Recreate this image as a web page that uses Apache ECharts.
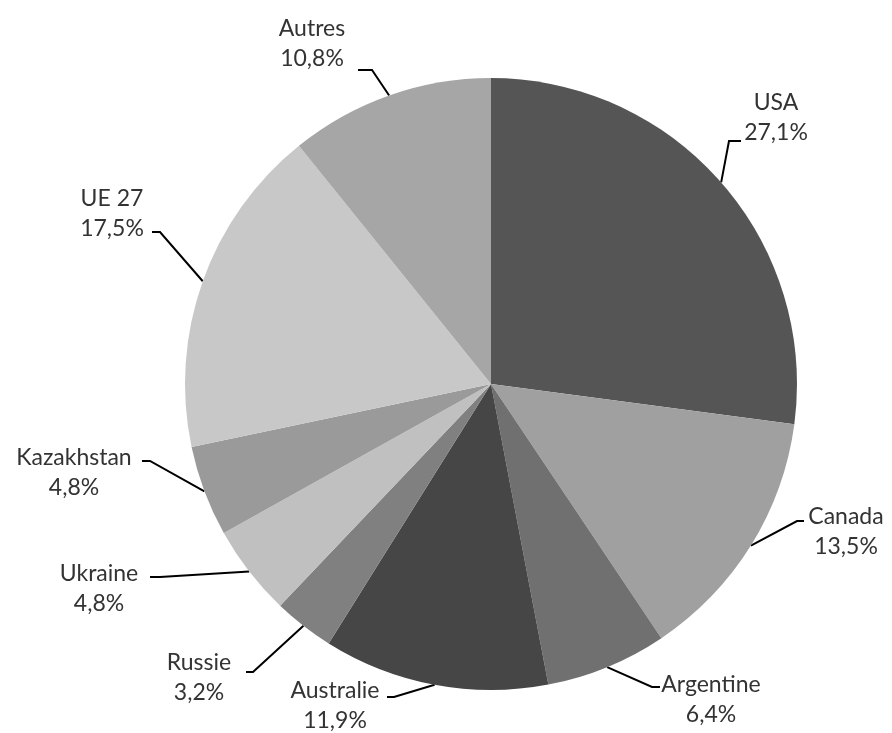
<!DOCTYPE html>
<html>
<head>
<meta charset="utf-8">
<script src="https://cdn.jsdelivr.net/npm/echarts@6/dist/echarts.min.js"></script>
<style>
html,body{margin:0;padding:0;background:#fff;}
#chart{width:892px;height:733px;}
</style>
</head>
<body>
<div id="chart"></div>
<script>
const categories = ['USA', 'Canada', 'Argentine', 'Australie', 'Russie', 'Ukraine', 'Kazakhstan', 'UE 27', 'Autres'];
const values = [27.1, 13.5, 6.4, 11.9, 3.2, 4.8, 4.8, 17.5, 10.8];
const colors = ['#555555', '#a0a0a0', '#707070', '#464646', '#808080', '#c0c0c0', '#9a9a9a', '#c8c8c8', '#a6a6a6'];

// label placement (text centre, elbow, end of leader line)
const labelPos = [
  {x: 776, y: 118, elbow: [729, 141], end: [741, 141]},
  {x: 846, y: 532, elbow: [797, 521], end: [804, 521]},
  {x: 711, y: 700, elbow: [652, 687], end: [660, 687]},
  {x: 335, y: 706, elbow: [394, 697], end: [387, 697]},
  {x: 199, y: 678, elbow: [253, 672], end: [246, 672]},
  {x: 99,  y: 589, elbow: [160, 577], end: [150, 577]},
  {x: 74,  y: 473, elbow: [150, 461], end: [142, 461]},
  {x: 112, y: 214, elbow: [160, 232], end: [152, 232]},
  {x: 312, y: 44,  elbow: [372, 70],  end: [358, 70]}
];

const fmt = v => v.toFixed(1).replace('.', ',') + '%';

const chart = echarts.init(document.getElementById('chart'), null, {renderer: 'canvas'});
chart.setOption({
  backgroundColor: '#ffffff',
  animation: false,
  series: [{
    type: 'pie',
    center: [491, 384],
    radius: [0, 306],
    startAngle: 90,
    clockwise: true,
    silent: true,
    data: categories.map((c, i) => ({name: c, value: values[i], itemStyle: {color: colors[i]}})),
    label: {
      show: true,
      position: 'outside',
      formatter: p => p.name + '\n' + fmt(p.value),
      fontFamily: 'Lato, "Noto Sans", sans-serif',
      fontSize: 23,
      lineHeight: 30,
      color: '#333333',
      align: 'center'
    },
    labelLine: {
      show: true,
      lineStyle: {color: '#000', width: 2},
      length: 20,
      length2: 10
    },
    labelLayout: function (params) {
      const lp = labelPos[params.dataIndex];
      const start = params.labelLinePoints ? params.labelLinePoints[0] : lp.elbow;
      return {
        x: lp.x,
        y: lp.y,
        align: 'center',
        verticalAlign: 'middle',
        labelLinePoints: [start, lp.elbow, lp.end]
      };
    }
  }]
});
</script>
</body>
</html>
